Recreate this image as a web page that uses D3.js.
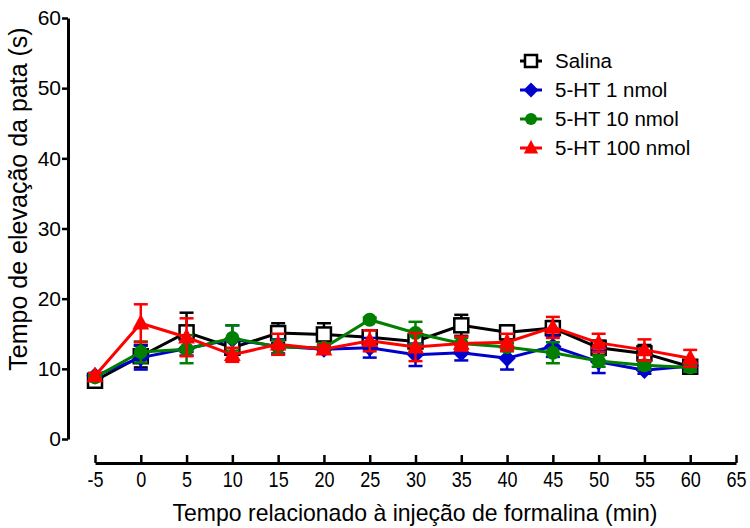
<!DOCTYPE html>
<html>
<head>
<meta charset="utf-8">
<script src="https://cdn.jsdelivr.net/npm/d3@7"></script>
<style>
  body { margin: 0; background: #fff; }
  text { font-family: "Liberation Sans", Arial, sans-serif; }
</style>
</head>
<body>
<script>
// chart size
const w = 750;
const h = 528;

// data
const times = [-5, 0, 5, 10, 15, 20, 25, 30, 35, 40, 45, 50, 55, 60];
const xTicks = [-5, 0, 5, 10, 15, 20, 25, 30, 35, 40, 45, 50, 55, 60, 65];
const yTicks = [0, 10, 20, 30, 40, 50, 60];
const seriesNames = ["Salina", "5-HT 1 nmol", "5-HT 10 nmol", "5-HT 100 nmol"];

const salina    = [8.3, 11.8, 15.2, 13.0, 15.1, 14.9, 14.5, 13.9, 16.2, 15.2, 15.8, 13.0, 12.2, 10.3];
const salinaErr = [0.5, 1.6, 2.8, 1.0, 1.4, 1.6, 1.0, 1.5, 1.5, 1.0, 1.0, 1.0, 1.2, 0.8];
const ht1       = [9.0, 11.6, 12.9, 14.2, 13.2, 12.8, 13.0, 12.0, 12.3, 11.5, 13.2, 11.0, 9.8, 10.4];
const ht1Err    = [0.4, 1.7, 1.0, 2.0, 1.0, 0.6, 1.4, 1.6, 1.1, 1.6, 1.5, 1.6, 0.5, 0.6];
const ht10      = [8.8, 12.4, 12.8, 14.4, 13.1, 13.0, 17.0, 15.1, 13.6, 13.1, 12.3, 11.1, 10.5, 10.2];
const ht10Err   = [0.3, 1.5, 2.0, 1.8, 1.0, 0.6, 0.3, 1.6, 0.8, 0.6, 1.5, 0.8, 0.6, 0.6];
const ht100     = [9.0, 16.5, 14.5, 12.0, 13.5, 12.8, 14.0, 13.1, 13.6, 13.8, 15.9, 13.7, 12.7, 11.5];
const ht100Err  = [0.4, 2.7, 2.7, 1.0, 1.5, 0.6, 1.5, 2.0, 1.0, 1.2, 1.5, 1.3, 1.5, 1.2];

const colors = ["#000000", "#0000cc", "#007f00", "#ff0000"];
const values = [salina, ht1, ht10, ht100];
const errors = [salinaErr, ht1Err, ht10Err, ht100Err];

const svg = d3.select("body").append("svg")
  .attr("width", w)
  .attr("height", h);

const xScale = d3.scaleLinear().domain([-5, 65]).range([95, 736]);
const yScale = d3.scaleLinear().domain([0, 60]).range([439, 18]);

// y axis
const yAxis = d3.axisLeft(yScale).tickValues(yTicks).tickSize(6).tickSizeOuter(0);
const gy = svg.append("g")
  .attr("transform", "translate(68,0)")
  .call(yAxis);
gy.select(".domain").attr("stroke-width", 3);
gy.selectAll(".tick line").attr("stroke-width", 2.5);
gy.selectAll(".tick text")
  .attr("x", -7)
  .attr("font-size", 21)
  .style("font-family", "Liberation Sans, Arial, sans-serif")
  .attr("fill", "#000");

// x axis, ticks pointing up, plain hyphen for -5
const xAxis = d3.axisBottom(xScale).tickValues(xTicks).tickSize(-8).tickSizeOuter(0)
  .tickFormat(d => String(d));
const gx = svg.append("g")
  .attr("transform", "translate(0,463)")
  .call(xAxis);
gx.select(".domain").attr("stroke-width", 3);
gx.selectAll(".tick line").attr("stroke-width", 2.5);
gx.selectAll(".tick text")
  .attr("y", 8)
  .attr("dy", "0.71em")
  .attr("font-size", 22)
  .style("font-family", "Liberation Sans, Arial, sans-serif")
  .attr("transform", "scale(0.82,1)")
  .attr("fill", "#000");

// titles
svg.append("text")
  .attr("x", 415)
  .attr("y", 521)
  .attr("text-anchor", "middle")
  .attr("font-size", 24)
  .attr("textLength", 485)
  .attr("lengthAdjust", "spacingAndGlyphs")
  .text("Tempo relacionado à injeção de formalina (min)");

svg.append("text")
  .attr("transform", "translate(27,199) rotate(-90)")
  .attr("text-anchor", "middle")
  .attr("font-size", 25)
  .text("Tempo de elevação da pata (s)");

// marker helper
function marker(sel, i, size) {
  const c = colors[i];
  if (i === 0) {
    sel.append("rect")
      .attr("x", -size / 2).attr("y", -size / 2)
      .attr("width", size).attr("height", size)
      .attr("fill", "#fff").attr("stroke", c).attr("stroke-width", 2.5);
  } else if (i === 1) {
    const s = size * 0.62;
    sel.append("path")
      .attr("d", `M0,${-s}L${s},0L0,${s}L${-s},0Z`)
      .attr("fill", c);
  } else if (i === 2) {
    sel.append("circle").attr("r", size * 0.5).attr("fill", c);
  } else {
    const s = size * 0.6;
    sel.append("path")
      .attr("d", `M0,${-s * 1.1}L${s},${s * 0.75}L${-s},${s * 0.75}Z`)
      .attr("fill", c);
  }
}

const line = d3.line()
  .x(d => xScale(d[0]))
  .y(d => yScale(d[1]));

// series
values.forEach(function(vals, i) {
  const data = times.map((t, k) => [t, vals[k], errors[i][k]]);
  const g = svg.append("g");

  // error bars
  const eb = g.selectAll(".err")
    .data(data)
    .enter()
    .append("g");
  eb.append("line")
    .attr("x1", d => xScale(d[0])).attr("x2", d => xScale(d[0]))
    .attr("y1", d => yScale(d[1] - d[2])).attr("y2", d => yScale(d[1] + d[2]))
    .attr("stroke", colors[i]).attr("stroke-width", 2.5);
  [-1, 1].forEach(function(sgn) {
    eb.append("line")
      .attr("x1", d => xScale(d[0]) - 7).attr("x2", d => xScale(d[0]) + 7)
      .attr("y1", d => yScale(d[1] + sgn * d[2])).attr("y2", d => yScale(d[1] + sgn * d[2]))
      .attr("stroke", colors[i]).attr("stroke-width", 2.5);
  });

  g.append("path")
    .datum(data)
    .attr("d", line)
    .attr("fill", "none")
    .attr("stroke", colors[i])
    .attr("stroke-width", 3);

  g.selectAll(".pt")
    .data(data)
    .enter()
    .append("g")
    .attr("transform", d => `translate(${xScale(d[0])},${yScale(d[1])})`)
    .each(function() { marker(d3.select(this), i, 14); });
});

// legend
const legend = svg.append("g").attr("transform", "translate(520,61)");
seriesNames.forEach(function(name, i) {
  const row = legend.append("g").attr("transform", `translate(0,${i * 29})`);
  row.append("line")
    .attr("x1", 0).attr("x2", 22)
    .attr("stroke", colors[i]).attr("stroke-width", 3);
  const m = row.append("g").attr("transform", "translate(11,0)");
  marker(m, i, 12);
  row.append("text")
    .attr("x", 35)
    .attr("y", 7)
    .attr("font-size", 20.5)
    .text(name);
});
</script>
</body>
</html>
